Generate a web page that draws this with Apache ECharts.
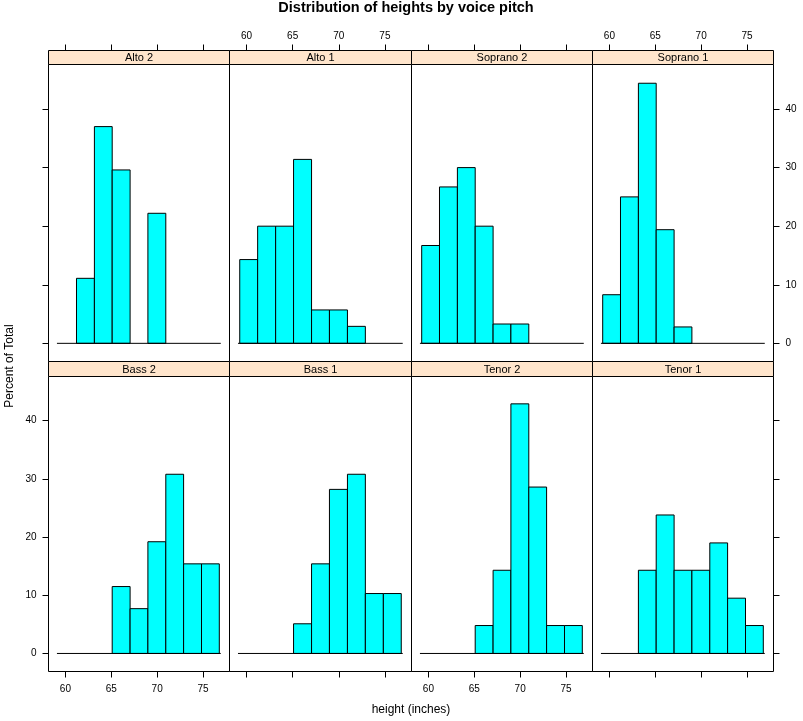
<!DOCTYPE html>
<html>
<head>
<meta charset="utf-8">
<script src="https://cdn.jsdelivr.net/npm/echarts@6/dist/echarts.min.js"></script>
<style>html,body{margin:0;padding:0;background:#fff}#c{width:803px;height:721px}</style>
</head>
<body>
<div id="c"></div>
<script>
// ---- data ----
var BREAKS = [59.27, 61.21, 63.16, 65.10, 67.05, 68.99, 70.94, 72.88, 74.83, 76.77];
var X_TICKS = [60, 65, 70, 75];
var Y_TICKS = [0, 10, 20, 30, 40];
var PANELS_TOP = ["Alto 2", "Alto 1", "Soprano 2", "Soprano 1"];
var PANELS_BOTTOM = ["Bass 2", "Bass 1", "Tenor 2", "Tenor 1"];
var alto2    = [0, 11.1, 37.0, 29.6, 0, 22.2, 0, 0, 0];
var alto1    = [14.3, 20.0, 20.0, 31.4, 5.7, 5.7, 2.9, 0, 0];
var soprano2 = [16.7, 26.7, 30.0, 20.0, 3.3, 3.3, 0, 0, 0];
var soprano1 = [8.3, 25.0, 44.4, 19.4, 2.8, 0, 0, 0, 0];
var bass2    = [0, 0, 0, 11.5, 7.7, 19.2, 30.8, 15.4, 15.4];
var bass1    = [0, 0, 0, 5.1, 15.4, 28.2, 30.8, 10.3, 10.3];
var tenor2   = [0, 0, 0, 4.8, 14.3, 42.9, 28.6, 4.8, 4.8];
var tenor1   = [0, 0, 14.3, 23.8, 14.3, 14.3, 19.0, 9.5, 4.8];

var VALUES = [alto2, alto1, soprano2, soprano1, bass2, bass1, tenor2, tenor1];
var NAMES = PANELS_TOP.concat(PANELS_BOTTOM);

// ---- layout ----
var COL_LEFT = [48.5, 229.5, 411.5, 592.5];
var COL_W = [181, 182, 181, 181];
var ROW_TOP = [64.5, 376.5];
var ROW_H = [297, 295];
var STRIP_H = [14, 15];
var XMIN = 58.16, XMAX = 77.88, YMIN = -3.1, YMAX = 47.6;
var FONT = "'Liberation Sans', Arial, sans-serif";

var grids = [], xAxes = [], yAxes = [], series = [], graphics = [];
for (var i = 0; i < 8; i++) {
  var row = i < 4 ? 0 : 1, col = i % 4;
  grids.push({left: COL_LEFT[col], top: ROW_TOP[row], width: COL_W[col], height: ROW_H[row],
    show: true, borderColor: '#000', borderWidth: 1, containLabel: false});
  var showXLabel = row === 0 ? (col === 1 || col === 3) : (col === 0 || col === 2);
  xAxes.push({
    type: 'value', gridIndex: i, min: XMIN, max: XMAX,
    position: row === 0 ? 'top' : 'bottom',
    offset: row === 0 ? STRIP_H[0] : 0,
    axisLine: {show: false, onZero: false}, splitLine: {show: false},
    axisTick: {show: true, length: 6, inside: false, customValues: X_TICKS, lineStyle: {color: '#000', width: 1}},
    axisLabel: {show: showXLabel, customValues: X_TICKS, margin: row === 0 ? 9 : 13,
      color: '#000', fontSize: 10, fontFamily: FONT}
  });
  var yShow = (col === 0 || col === 3);
  var yLabel = (col === 0 && row === 1) || (col === 3 && row === 0);
  yAxes.push({
    type: 'value', gridIndex: i, min: YMIN, max: YMAX,
    position: col === 3 ? 'right' : 'left',
    axisLine: {show: false, onZero: false}, splitLine: {show: false},
    axisTick: {show: yShow, length: 6, inside: false, customValues: Y_TICKS, lineStyle: {color: '#000', width: 1}},
    axisLabel: {show: yLabel, customValues: Y_TICKS, margin: 12, color: '#000', fontSize: 10, fontFamily: FONT}
  });
  var data = [];
  VALUES[i].forEach(function (v, k) {
    if (v > 0) data.push([BREAKS[k], BREAKS[k + 1], v]);
  });
  series.push({
    type: 'custom', xAxisIndex: i, yAxisIndex: i, data: data, silent: true,
    renderItem: function (params, api) {
      var p0 = api.coord([api.value(0), api.value(2)]);
      var p1 = api.coord([api.value(1), 0]);
      return {type: 'rect', shape: {x: p0[0], y: p0[1], width: p1[0] - p0[0], height: p1[1] - p0[1]},
        style: {fill: '#00FFFF', stroke: '#000', lineWidth: 1}};
    }
  });
  series.push({
    type: 'line', xAxisIndex: i, yAxisIndex: i, symbol: 'none', silent: true, z: 3,
    data: [[BREAKS[0] - 0.19, 0], [BREAKS[BREAKS.length - 1] + 0.16, 0]],
    lineStyle: {color: '#000', width: 1}
  });
  // strip
  var sy = ROW_TOP[row] - STRIP_H[row];
  graphics.push({type: 'rect', shape: {x: COL_LEFT[col], y: sy, width: COL_W[col], height: STRIP_H[row]},
    style: {fill: '#FFE5CC', stroke: '#000', lineWidth: 1}, z: 10});
  graphics.push({type: 'text', x: COL_LEFT[col] + COL_W[col] / 2, y: sy + STRIP_H[row] / 2 + 0.5,
    style: {text: NAMES[i], font: '11px ' + FONT, fill: '#000', textAlign: 'center', textVerticalAlign: 'middle'}, z: 11});
}
graphics.push({type: 'text', x: 406, y: 8,
  style: {text: 'Distribution of heights by voice pitch', font: 'bold 14.5px ' + FONT, fill: '#000',
    textAlign: 'center', textVerticalAlign: 'middle'}});
graphics.push({type: 'text', x: 411, y: 710,
  style: {text: 'height (inches)', font: '12px ' + FONT, fill: '#000', textAlign: 'center', textVerticalAlign: 'middle'}});
graphics.push({type: 'text', x: 10, y: 366, rotation: Math.PI / 2,
  style: {text: 'Percent of Total', font: '12px ' + FONT, fill: '#000', textAlign: 'center', textVerticalAlign: 'middle'}});

var chart = echarts.init(document.getElementById('c'), null, {renderer: 'canvas'});
chart.setOption({
  animation: false,
  backgroundColor: '#fff',
  grid: grids, xAxis: xAxes, yAxis: yAxes, series: series, graphic: graphics
});
</script>
</body>
</html>
